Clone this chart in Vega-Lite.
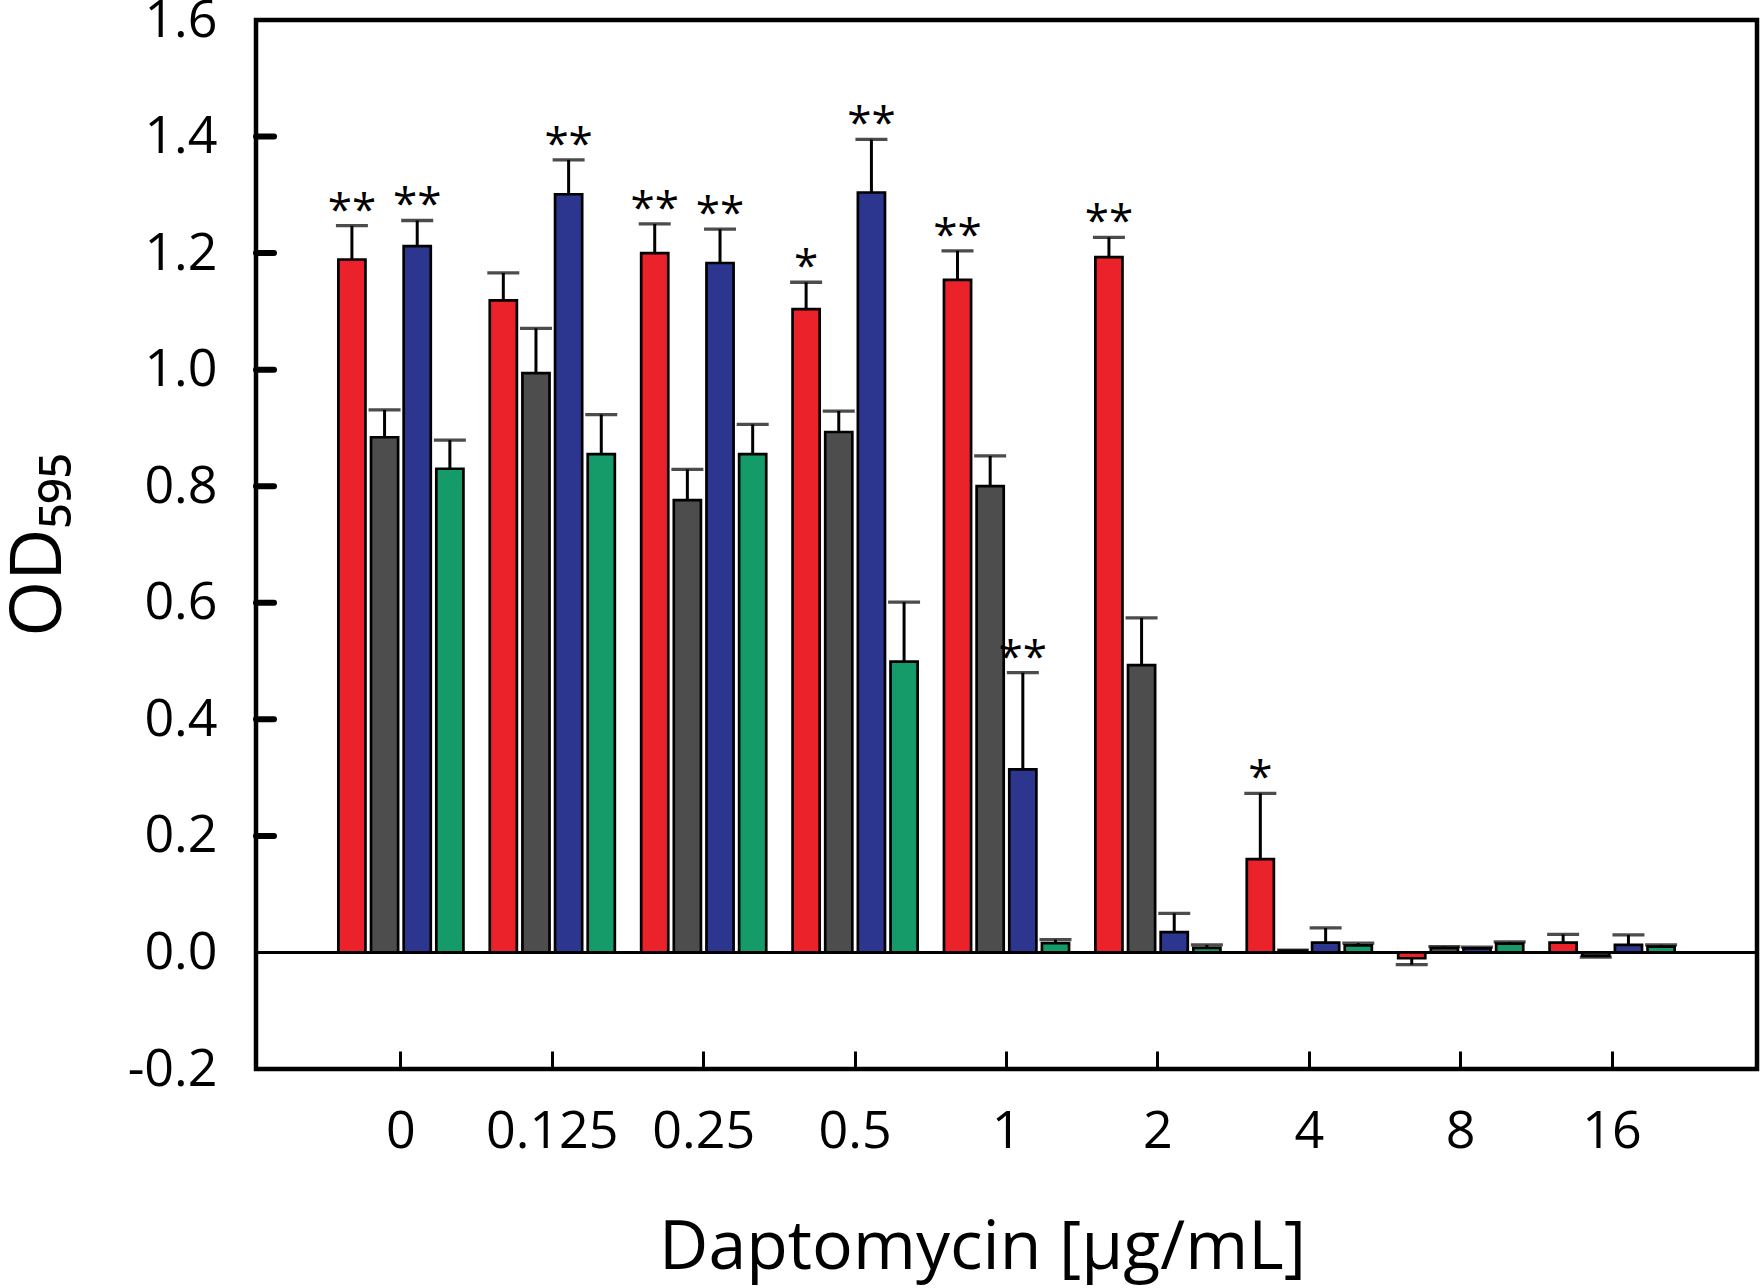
{
  "$schema": "https://vega.github.io/schema/vega-lite/v6.json",
  "width": 1501,
  "height": 1049,
  "autosize": {"type": "none"},
  "padding": {"left": 256, "top": 20, "right": 3, "bottom": 219},
  "background": "white",
  "config": {
    "view": {"stroke": "black", "strokeWidth": 4.5},
    "font": "Open Sans"
  },
  "resolve": {"scale": {"x": "independent"}, "axis": {"x": "independent"}},
  "data": {
    "values": [
      {"dose": "0", "series": "s1", "od": 1.189, "cap": 1.247, "sig": "**"},
      {"dose": "0", "series": "s2", "od": 0.884, "cap": 0.931, "sig": ""},
      {"dose": "0", "series": "s3", "od": 1.212, "cap": 1.256, "sig": "**"},
      {"dose": "0", "series": "s4", "od": 0.830, "cap": 0.879, "sig": ""},
      {"dose": "0.125", "series": "s1", "od": 1.119, "cap": 1.166, "sig": ""},
      {"dose": "0.125", "series": "s2", "od": 0.994, "cap": 1.071, "sig": ""},
      {"dose": "0.125", "series": "s3", "od": 1.301, "cap": 1.360, "sig": "**"},
      {"dose": "0.125", "series": "s4", "od": 0.855, "cap": 0.923, "sig": ""},
      {"dose": "0.25", "series": "s1", "od": 1.200, "cap": 1.250, "sig": "**"},
      {"dose": "0.25", "series": "s2", "od": 0.776, "cap": 0.829, "sig": ""},
      {"dose": "0.25", "series": "s3", "od": 1.183, "cap": 1.241, "sig": "**"},
      {"dose": "0.25", "series": "s4", "od": 0.855, "cap": 0.906, "sig": ""},
      {"dose": "0.5", "series": "s1", "od": 1.104, "cap": 1.150, "sig": "*"},
      {"dose": "0.5", "series": "s2", "od": 0.893, "cap": 0.929, "sig": ""},
      {"dose": "0.5", "series": "s3", "od": 1.304, "cap": 1.395, "sig": "**"},
      {"dose": "0.5", "series": "s4", "od": 0.499, "cap": 0.601, "sig": ""},
      {"dose": "1", "series": "s1", "od": 1.154, "cap": 1.204, "sig": "**"},
      {"dose": "1", "series": "s2", "od": 0.800, "cap": 0.852, "sig": ""},
      {"dose": "1", "series": "s3", "od": 0.314, "cap": 0.480, "sig": "**"},
      {"dose": "1", "series": "s4", "od": 0.016, "cap": 0.022, "sig": ""},
      {"dose": "2", "series": "s1", "od": 1.193, "cap": 1.227, "sig": "**"},
      {"dose": "2", "series": "s2", "od": 0.493, "cap": 0.574, "sig": ""},
      {"dose": "2", "series": "s3", "od": 0.035, "cap": 0.067, "sig": ""},
      {"dose": "2", "series": "s4", "od": 0.008, "cap": 0.013, "sig": ""},
      {"dose": "4", "series": "s1", "od": 0.160, "cap": 0.273, "sig": "*"},
      {"dose": "4", "series": "s2", "od": 0.003, "cap": 0.004, "sig": ""},
      {"dose": "4", "series": "s3", "od": 0.017, "cap": 0.042, "sig": ""},
      {"dose": "4", "series": "s4", "od": 0.012, "cap": 0.016, "sig": ""},
      {"dose": "8", "series": "s1", "od": -0.010, "cap": -0.021, "sig": ""},
      {"dose": "8", "series": "s2", "od": 0.008, "cap": 0.010, "sig": ""},
      {"dose": "8", "series": "s3", "od": 0.007, "cap": 0.009, "sig": ""},
      {"dose": "8", "series": "s4", "od": 0.015, "cap": 0.018, "sig": ""},
      {"dose": "16", "series": "s1", "od": 0.017, "cap": 0.031, "sig": ""},
      {"dose": "16", "series": "s2", "od": -0.006, "cap": -0.008, "sig": ""},
      {"dose": "16", "series": "s3", "od": 0.013, "cap": 0.030, "sig": ""},
      {"dose": "16", "series": "s4", "od": 0.010, "cap": 0.013, "sig": ""}
    ]
  },
  "layer": [
    {
      "mark": {"type": "rule", "color": "black", "strokeWidth": 2},
      "encoding": {
        "y": {
          "datum": 0, "type": "quantitative",
          "scale": {"domain": [-0.2, 1.6], "nice": false, "zero": false},
          "axis": {
            "values": [-0.2, 0, 0.2, 0.4, 0.6, 0.8, 1.0, 1.2, 1.4, 1.6],
            "format": ".1f",
            "labelExpr": "replace(datum.label, '−', '-')",
            "labelFontSize": 52,
            "labelColor": "black",
            "labelPadding": 39,
            "ticks": false,
            "grid": false,
            "domain": false,
            "title": "OD₅₉₅",
            "titleFontSize": 72,
            "titleFontWeight": "normal",
            "titleColor": "black",
            "titleX": -196,
            "titleBaseline": "alphabetic"
          }
        }
      }
    },
    {
      "data": {"values": [{"t": 0.2}, {"t": 0.4}, {"t": 0.6}, {"t": 0.8}, {"t": 1.0}, {"t": 1.2}, {"t": 1.4}]},
      "mark": {"type": "rule", "color": "black", "strokeWidth": 6, "strokeCap": "round"},
      "encoding": {
        "y": {"field": "t", "type": "quantitative"},
        "x": {"datum": 0, "type": "quantitative", "scale": {"domain": [0, 1], "nice": false, "zero": false}, "axis": null},
        "x2": {"datum": 0.012}
      }
    },
    {
      "layer": [
        {
          "mark": {"type": "bar", "stroke": "black", "strokeWidth": 2.7},
          "encoding": {
            "x": {
              "field": "dose", "type": "nominal",
              "sort": ["0", "0.125", "0.25", "0.5", "1", "2", "4", "8", "16"],
              "scale": {"paddingInner": 0.174, "paddingOuter": 0.544},
              "axis": {
                "title": "Daptomycin [µg/mL]",
                "labelAngle": 0,
                "labelFontSize": 52,
                "labelColor": "black",
                "labelPadding": 55,
                "tickSize": -18,
                "tickWidth": 3,
                "tickColor": "black",
                "domain": false,
                "grid": false,
                "titleFontSize": 68,
                "titleFontWeight": "normal",
                "titleColor": "black",
                "titleX": 726,
                "titleY": 199,
                "titleBaseline": "alphabetic"
              }
            },
            "xOffset": {
              "field": "series", "type": "nominal",
              "sort": ["s1", "s2", "s3", "s4"],
              "scale": {"paddingInner": 0.17, "paddingOuter": 0}
            },
            "y": {"field": "od", "type": "quantitative"},
            "y2": {"datum": 0},
            "color": {
              "field": "series", "type": "nominal",
              "scale": {"domain": ["s1", "s2", "s3", "s4"], "range": ["#EB2229", "#4D4D4D", "#2C368F", "#159B6A"]},
              "legend": null
            }
          }
        },
        {
          "mark": {"type": "rule", "color": "black", "strokeWidth": 3},
          "encoding": {
            "x": {"field": "dose", "type": "nominal", "sort": ["0", "0.125", "0.25", "0.5", "1", "2", "4", "8", "16"]},
            "xOffset": {"field": "series", "type": "nominal", "sort": ["s1", "s2", "s3", "s4"]},
            "y": {"field": "od", "type": "quantitative"},
            "y2": {"field": "cap"}
          }
        },
        {
          "mark": {"type": "tick", "orient": "horizontal", "color": "black", "size": 32, "thickness": 3.3},
          "encoding": {
            "x": {"field": "dose", "type": "nominal", "sort": ["0", "0.125", "0.25", "0.5", "1", "2", "4", "8", "16"]},
            "xOffset": {"field": "series", "type": "nominal", "sort": ["s1", "s2", "s3", "s4"]},
            "y": {"field": "cap", "type": "quantitative"}
          }
        },
        {
          "transform": [{"filter": "datum.sig != ''"}],
          "mark": {"type": "text", "color": "black", "fontSize": 44, "baseline": "alphabetic", "dy": -1, "font": "Open Sans"},
          "encoding": {
            "x": {"field": "dose", "type": "nominal", "sort": ["0", "0.125", "0.25", "0.5", "1", "2", "4", "8", "16"]},
            "xOffset": {"field": "series", "type": "nominal", "sort": ["s1", "s2", "s3", "s4"]},
            "y": {"field": "cap", "type": "quantitative"},
            "text": {"field": "sig"}
          }
        }
      ]
    }
  ]
}
